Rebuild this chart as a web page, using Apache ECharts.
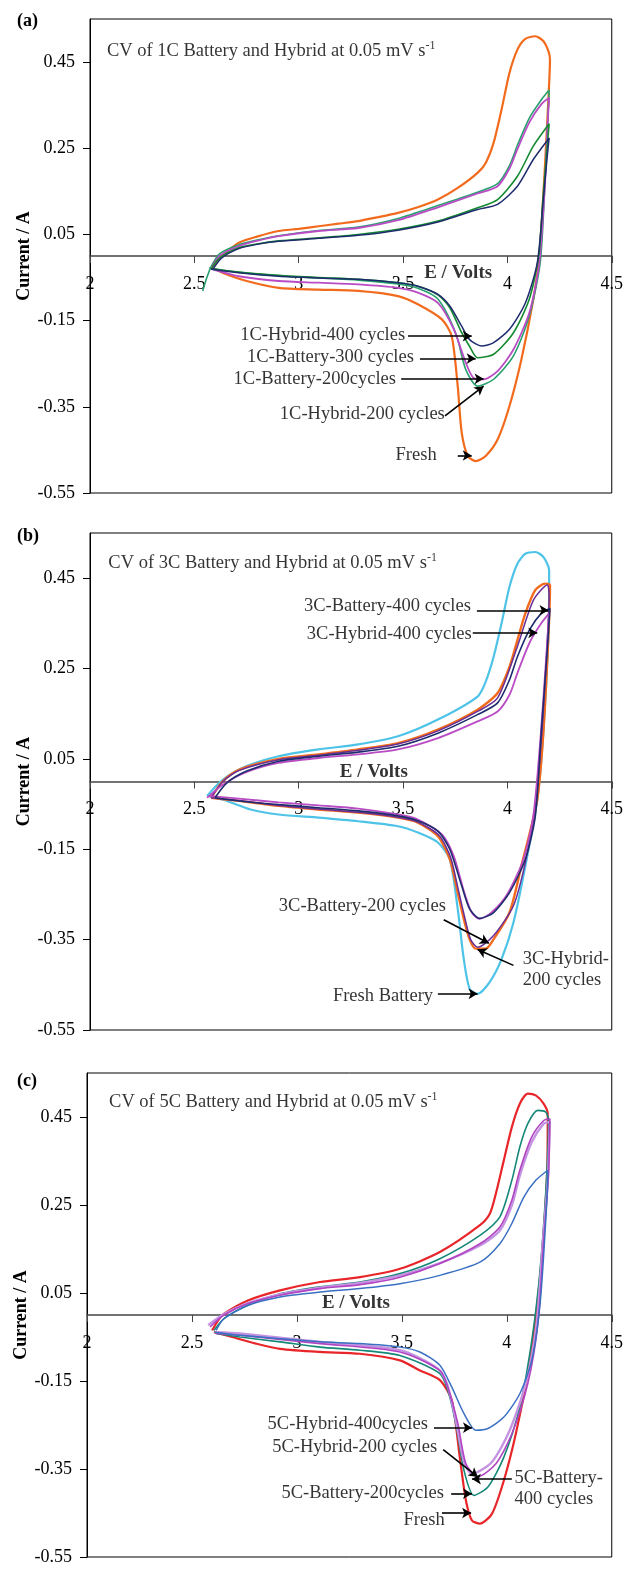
<!DOCTYPE html>
<html>
<head>
<meta charset="utf-8">
<script src="https://cdn.jsdelivr.net/npm/echarts@6/dist/echarts.min.js"></script>
<style>
  html, body { margin: 0; padding: 0; background: #fff; }
  #main { width: 626px; height: 1573px; }
</style>
</head>
<body>
<div id="main"></div>
<script>
// tick values
var xTicks = [2, 2.5, 3, 3.5, 4, 4.5];
var yTicks = [-0.55, -0.35, -0.15, 0.05, 0.25, 0.45];

// ---- panel (a) : 1C, [E (V), I (A)] loops ----
var a_fresh = [[2.58,-0.03],[2.62,-0.005],[2.66,0.012],[2.713,0.031],[2.8,0.045],[2.904,0.058],[3.0,0.063],[3.095,0.069],[3.19,0.075],[3.285,0.081],[3.38,0.09],[3.476,0.1],[3.57,0.113],[3.667,0.131],[3.762,0.158],[3.857,0.193],[3.896,0.216],[3.934,0.263],[3.972,0.34],[4.01,0.425],[4.048,0.479],[4.086,0.504],[4.134,0.51],[4.172,0.499],[4.197,0.475],[4.204,0.456],[4.2,0.4],[4.18,0.209],[4.153,0.0],[4.124,-0.101],[4.067,-0.24],[4.01,-0.348],[3.953,-0.426],[3.896,-0.464],[3.848,-0.476],[3.81,-0.464],[3.781,-0.41],[3.762,-0.302],[3.733,-0.186],[3.686,-0.147],[3.571,-0.112],[3.476,-0.093],[3.285,-0.081],[3.095,-0.078],[2.904,-0.074],[2.75,-0.058],[2.656,-0.043],[2.6,-0.03]];
var a_h400 = [[2.59,-0.03],[2.63,-0.005],[2.713,0.017],[2.8,0.027],[2.904,0.034],[3.095,0.041],[3.285,0.048],[3.476,0.06],[3.667,0.079],[3.857,0.108],[3.953,0.12],[4.048,0.162],[4.124,0.224],[4.2,0.274],[4.191,0.232],[4.172,0.131],[4.143,-0.016],[4.086,-0.109],[4.01,-0.17],[3.934,-0.201],[3.876,-0.209],[3.819,-0.194],[3.781,-0.163],[3.724,-0.116],[3.667,-0.089],[3.571,-0.07],[3.476,-0.062],[3.285,-0.054],[3.095,-0.051],[2.904,-0.047],[2.713,-0.039],[2.58,-0.03]];
var a_b300 = [[2.58,-0.03],[2.62,-0.005],[2.713,0.019],[2.8,0.028],[2.904,0.035],[3.095,0.042],[3.285,0.05],[3.476,0.062],[3.667,0.081],[3.857,0.112],[3.953,0.131],[4.048,0.185],[4.124,0.255],[4.2,0.307],[4.19,0.25],[4.17,0.13],[4.15,0.0],[4.105,-0.1],[4.029,-0.178],[3.934,-0.228],[3.857,-0.236],[3.819,-0.21],[3.781,-0.178],[3.724,-0.12],[3.667,-0.09],[3.571,-0.07],[3.476,-0.062],[3.285,-0.054],[3.095,-0.05],[2.904,-0.045],[2.713,-0.037],[2.58,-0.03]];
var a_b200 = [[2.58,-0.03],[2.62,0.0],[2.713,0.023],[2.8,0.035],[2.904,0.046],[3.095,0.058],[3.285,0.065],[3.476,0.083],[3.667,0.113],[3.857,0.145],[3.953,0.162],[4.01,0.203],[4.048,0.248],[4.105,0.31],[4.162,0.352],[4.2,0.367],[4.192,0.3],[4.185,0.209],[4.153,-0.016],[4.105,-0.132],[4.029,-0.217],[3.953,-0.267],[3.886,-0.286],[3.838,-0.283],[3.8,-0.247],[3.743,-0.17],[3.667,-0.109],[3.571,-0.085],[3.476,-0.074],[3.285,-0.066],[3.095,-0.062],[2.904,-0.058],[2.713,-0.047],[2.58,-0.03]];
var a_h200 = [[2.54,-0.081],[2.56,-0.05],[2.58,-0.025],[2.62,0.005],[2.713,0.026],[2.8,0.037],[2.904,0.047],[3.095,0.059],[3.285,0.067],[3.476,0.087],[3.667,0.117],[3.857,0.148],[3.953,0.168],[4.01,0.21],[4.048,0.257],[4.105,0.32],[4.162,0.362],[4.2,0.385],[4.192,0.3],[4.178,0.15],[4.157,-0.016],[4.105,-0.139],[4.029,-0.232],[3.934,-0.286],[3.857,-0.302],[3.8,-0.263],[3.753,-0.18],[3.667,-0.1],[3.571,-0.075],[3.476,-0.065],[3.285,-0.056],[3.095,-0.051],[2.904,-0.046],[2.713,-0.038],[2.57,-0.028]];

// ---- panel (b) : 3C ----
var b_fresh = [[2.561,-0.032],[2.637,0.004],[2.751,0.034],[2.904,0.056],[3.095,0.071],[3.285,0.082],[3.476,0.1],[3.667,0.137],[3.857,0.188],[3.896,0.221],[3.934,0.276],[3.972,0.35],[4.01,0.431],[4.048,0.482],[4.086,0.504],[4.134,0.508],[4.172,0.497],[4.2,0.468],[4.197,0.328],[4.172,0.107],[4.143,-0.04],[4.086,-0.187],[4.029,-0.312],[3.972,-0.393],[3.915,-0.444],[3.857,-0.47],[3.819,-0.459],[3.791,-0.393],[3.762,-0.282],[3.724,-0.172],[3.667,-0.135],[3.571,-0.113],[3.476,-0.099],[3.285,-0.088],[3.095,-0.08],[2.904,-0.073],[2.77,-0.062],[2.656,-0.043],[2.57,-0.032]];
var b_b200 = [[2.58,-0.036],[2.637,0.001],[2.713,0.026],[2.904,0.05],[3.095,0.06],[3.285,0.071],[3.476,0.085],[3.667,0.115],[3.857,0.159],[3.953,0.196],[4.01,0.254],[4.048,0.313],[4.086,0.372],[4.134,0.424],[4.181,0.438],[4.204,0.435],[4.197,0.328],[4.172,0.107],[4.143,-0.04],[4.067,-0.187],[4.01,-0.29],[3.934,-0.349],[3.896,-0.37],[3.848,-0.37],[3.819,-0.349],[3.791,-0.304],[3.762,-0.246],[3.724,-0.172],[3.667,-0.121],[3.571,-0.091],[3.476,-0.08],[3.285,-0.069],[3.095,-0.062],[2.904,-0.054],[2.713,-0.043],[2.58,-0.036]];
var b_h200 = [[2.58,-0.036],[2.637,0.0],[2.713,0.024],[2.904,0.048],[3.095,0.058],[3.285,0.069],[3.476,0.083],[3.667,0.112],[3.857,0.155],[3.953,0.185],[4.048,0.299],[4.124,0.401],[4.191,0.435],[4.2,0.41],[4.19,0.3],[4.165,0.107],[4.134,-0.054],[4.086,-0.179],[4.029,-0.275],[3.934,-0.341],[3.857,-0.367],[3.824,-0.35],[3.795,-0.3],[3.765,-0.24],[3.728,-0.168],[3.672,-0.119],[3.571,-0.09],[3.476,-0.079],[3.285,-0.068],[3.095,-0.061],[2.904,-0.053],[2.713,-0.042],[2.58,-0.036]];
var b_b400 = [[2.599,-0.036],[2.656,-0.003],[2.751,0.023],[2.904,0.045],[3.095,0.056],[3.285,0.065],[3.476,0.078],[3.667,0.107],[3.857,0.148],[3.953,0.174],[4.01,0.225],[4.048,0.276],[4.105,0.335],[4.162,0.372],[4.204,0.383],[4.191,0.291],[4.162,0.107],[4.134,-0.076],[4.086,-0.172],[4.01,-0.246],[3.934,-0.29],[3.867,-0.303],[3.819,-0.282],[3.781,-0.231],[3.724,-0.15],[3.667,-0.11],[3.571,-0.087],[3.476,-0.076],[3.285,-0.065],[3.095,-0.058],[2.904,-0.051],[2.713,-0.043],[2.599,-0.036]];
var b_h400 = [[2.561,-0.036],[2.637,-0.007],[2.751,0.021],[2.904,0.041],[3.095,0.052],[3.285,0.06],[3.476,0.071],[3.667,0.096],[3.857,0.133],[3.953,0.155],[4.01,0.192],[4.048,0.24],[4.105,0.306],[4.162,0.35],[4.2,0.372],[4.185,0.269],[4.158,0.093],[4.124,-0.076],[4.077,-0.172],[4.0,-0.249],[3.924,-0.29],[3.867,-0.304],[3.829,-0.29],[3.791,-0.242],[3.743,-0.165],[3.686,-0.117],[3.571,-0.084],[3.476,-0.073],[3.285,-0.06],[3.095,-0.053],[2.904,-0.046],[2.713,-0.038],[2.57,-0.032]];

// ---- panel (c) : 5C ----
var c_fresh = [[2.596,-0.035],[2.625,-0.012],[2.653,0.003],[2.767,0.033],[2.92,0.056],[3.11,0.075],[3.3,0.086],[3.491,0.105],[3.681,0.143],[3.872,0.204],[3.919,0.23],[3.948,0.276],[3.986,0.352],[4.024,0.427],[4.062,0.48],[4.1,0.503],[4.138,0.499],[4.176,0.48],[4.195,0.458],[4.192,0.321],[4.167,0.132],[4.138,-0.005],[4.1,-0.133],[4.043,-0.27],[3.986,-0.376],[3.929,-0.452],[3.872,-0.474],[3.834,-0.467],[3.805,-0.421],[3.776,-0.323],[3.738,-0.194],[3.681,-0.148],[3.586,-0.126],[3.491,-0.103],[3.3,-0.088],[3.11,-0.084],[2.92,-0.077],[2.805,-0.065],[2.691,-0.05],[2.605,-0.039]];
var c_b200 = [[2.605,-0.035],[2.653,-0.008],[2.767,0.022],[2.92,0.048],[3.11,0.064],[3.3,0.075],[3.491,0.094],[3.681,0.128],[3.872,0.181],[3.967,0.223],[4.024,0.306],[4.062,0.382],[4.1,0.435],[4.148,0.465],[4.186,0.461],[4.199,0.442],[4.186,0.283],[4.157,0.094],[4.119,-0.058],[4.062,-0.209],[3.986,-0.323],[3.91,-0.391],[3.843,-0.41],[3.796,-0.353],[3.757,-0.247],[3.719,-0.171],[3.681,-0.133],[3.491,-0.092],[3.3,-0.08],[3.11,-0.073],[2.92,-0.061],[2.729,-0.05],[2.615,-0.042]];
var c_b400 = [[2.586,-0.027],[2.653,0.0],[2.767,0.026],[2.92,0.045],[3.11,0.06],[3.3,0.069],[3.491,0.086],[3.681,0.117],[3.872,0.162],[3.967,0.2],[4.024,0.261],[4.062,0.329],[4.119,0.405],[4.176,0.442],[4.205,0.446],[4.199,0.321],[4.176,0.17],[4.148,-0.02],[4.1,-0.156],[4.024,-0.27],[3.948,-0.338],[3.862,-0.368],[3.805,-0.338],[3.767,-0.247],[3.719,-0.164],[3.681,-0.126],[3.491,-0.084],[3.11,-0.065],[2.729,-0.046],[2.615,-0.042]];
var c_h200 = [[2.577,-0.023],[2.653,0.002],[2.767,0.027],[2.92,0.047],[3.11,0.062],[3.3,0.073],[3.491,0.09],[3.681,0.118],[3.872,0.158],[3.967,0.192],[4.024,0.249],[4.062,0.317],[4.119,0.393],[4.176,0.435],[4.205,0.439],[4.195,0.306],[4.17,0.155],[4.142,-0.02],[4.09,-0.156],[4.014,-0.262],[3.929,-0.334],[3.834,-0.361],[3.796,-0.334],[3.757,-0.239],[3.715,-0.156],[3.672,-0.122],[3.491,-0.08],[3.11,-0.061],[2.729,-0.042],[2.615,-0.039]];
var c_h400 = [[2.615,-0.035],[2.653,-0.008],[2.767,0.022],[2.92,0.041],[3.11,0.052],[3.3,0.06],[3.491,0.071],[3.681,0.09],[3.872,0.12],[3.967,0.162],[4.024,0.208],[4.081,0.268],[4.138,0.306],[4.195,0.329],[4.195,0.321],[4.18,0.17],[4.157,0.018],[4.119,-0.103],[4.062,-0.179],[3.986,-0.232],[3.91,-0.258],[3.853,-0.262],[3.796,-0.224],[3.738,-0.164],[3.681,-0.114],[3.586,-0.084],[3.491,-0.073],[3.3,-0.065],[3.11,-0.061],[2.92,-0.054],[2.729,-0.046],[2.605,-0.039]];

// annotations: [E, I, text, side]
var a_notes = [[3.51,-0.184,'1C-Hybrid-400 cycles','left'],[3.552,-0.234,'1C-Battery-300 cycles','left'],[3.466,-0.285,'1C-Battery-200cycles','left'],[3.7,-0.366,'1C-Hybrid-200 cycles','left'],[3.661,-0.461,'Fresh','left']];
var a_arrows = [[3.524,-0.186,3.829,-0.186],[3.581,-0.238,3.848,-0.238],[3.491,-0.285,3.886,-0.285],[3.701,-0.371,3.886,-0.302],[3.762,-0.463,3.829,-0.463]];
var b_notes = [[3.825,0.388,'3C-Battery-400 cycles','left'],[3.829,0.326,'3C-Hybrid-400 cycles','left'],[3.705,-0.275,'3C-Battery-200 cycles','left'],[4.073,-0.416,'3C-Hybrid-\n200 cycles','right'],[3.644,-0.475,'Fresh Battery','left']];
var b_arrows = [[3.854,0.379,4.197,0.379],[3.834,0.329,4.143,0.329],[3.695,-0.306,3.911,-0.358],[4.029,-0.407,3.857,-0.372],[3.667,-0.47,3.857,-0.47]];
var c_notes = [[3.624,-0.247,'5C-Hybrid-400cycles','left'],[3.668,-0.3,'5C-Hybrid-200 cycles','left'],[4.037,-0.395,'5C-Battery-\n400 cycles','right'],[3.7,-0.404,'5C-Battery-200cycles','left'],[3.704,-0.467,'Fresh','left']];
var c_arrows = [[3.653,-0.256,3.834,-0.256],[3.697,-0.306,3.862,-0.368],[4.024,-0.373,3.834,-0.373],[3.735,-0.406,3.834,-0.406],[3.691,-0.45,3.83,-0.45]];

var titles = [[2.081,0.475,'1C'],[2.088,0.484,'3C'],[2.105,0.484,'5C']];
var xNamePos = [[3.764,-0.039],[3.36,0.02],[3.281,0.026]];

var FONT = '"Liberation Serif", "Times New Roman", serif';
var myChart = echarts.init(document.getElementById('main'));

var grids = [
    {left: 90, width: 524, top: 19, height: 474},
    {left: 90, width: 524, top: 533, height: 497},
    {left: 87, width: 525, top: 1073, height: 484}
];
grids.forEach(function (g) { g.show = true; g.borderColor = '#000'; g.borderWidth = 1; });

var xAxes = [], yAxes = [];
for (var i = 0; i < 3; i++) {
    // x axis sits on I = 0, which is the middle of the symmetric y range
    xAxes.push({
        type: 'value', gridIndex: i, min: 2, max: 4.5,
        position: 'bottom', offset: -grids[i].height / 2,
        axisLine: {onZero: false, lineStyle: {color: '#444', width: 1.5}},
        axisTick: {show: true, length: 7, customValues: xTicks, lineStyle: {color: '#444'}},
        axisLabel: {customValues: xTicks, margin: 19, color: '#000', fontFamily: FONT, fontSize: 18},
        splitLine: {show: false}
    });
    yAxes.push({
        type: 'value', gridIndex: i, min: -0.55, max: 0.55,
        name: 'Current / A', nameLocation: 'middle', nameGap: 57, nameMoveOverlap: false,
        nameTextStyle: {color: '#000', fontFamily: FONT, fontSize: 18, fontWeight: 'bold'},
        axisLine: {show: true, lineStyle: {color: '#000'}},
        axisTick: {show: true, length: 7, customValues: yTicks, lineStyle: {color: '#000'}},
        axisLabel: {customValues: yTicks, margin: 15, color: '#000', fontFamily: FONT, fontSize: 18},
        splitLine: {show: false}
    });
}

function curve(name, data, color, width, idx) {
    return {
        name: name, type: 'line', xAxisIndex: idx, yAxisIndex: idx,
        data: data, showSymbol: false, smooth: 0.25,
        lineStyle: {color: color, width: width}, itemStyle: {color: color},
        silent: true
    };
}

function notes(list, arrows, title, xName, idx) {
    var data = list.map(function (n) {
        return {
            value: [n[0], n[1]], name: n[2],
            label: {position: n[3], align: n[3] === 'left' ? 'right' : 'left'}
        };
    });
    data.push({
        value: [title[0], title[1]], name: title[2],
        label: {position: 'right', align: 'left',
            formatter: '{t|CV of ' + title[2] + ' Battery and Hybrid at 0.05 mV s}{s|-1}'}
    });
    data.push({
        value: xName, name: 'E / Volts',
        label: {position: 'inside', align: 'center', fontWeight: 'bold', fontSize: 19}
    });
    return {
        type: 'scatter', xAxisIndex: idx, yAxisIndex: idx, symbolSize: 0, silent: true, z: 5,
        data: data,
        label: {
            show: true, formatter: '{b}', distance: 0, color: '#000',
            fontFamily: FONT, fontSize: 18.5, lineHeight: 21,
            rich: {
                t: {fontFamily: FONT, fontSize: 18.5, color: '#000', lineHeight: 22},
                s: {fontFamily: FONT, fontSize: 12, color: '#000', verticalAlign: 'top', lineHeight: 22}
            }
        },
        markLine: {
            silent: true, symbol: ['none', 'arrow'], symbolSize: [8, 9],
            label: {show: false},
            lineStyle: {color: '#000', width: 1.6, type: 'solid'},
            data: arrows.map(function (a) {
                return [{coord: [a[0], a[1]]}, {coord: [a[2], a[3]]}];
            })
        }
    };
}

var series = [
    curve('Fresh', a_fresh, '#F26B1D', 2.2, 0),
    curve('1C-Hybrid-200 cycles', a_h200, '#27A06E', 1.6, 0),
    curve('1C-Battery-200cycles', a_b200, '#B94CC4', 1.8, 0),
    curve('1C-Battery-300 cycles', a_b300, '#148A30', 1.6, 0),
    curve('1C-Hybrid-400 cycles', a_h400, '#1E2C6E', 1.5, 0),
    notes(a_notes, a_arrows, titles[0], xNamePos[0], 0),

    curve('Fresh Battery', b_fresh, '#4EC3E8', 2.2, 1),
    curve('3C-Battery-200 cycles', b_b200, '#F26B1D', 2.4, 1),
    curve('3C-Hybrid-200 cycles', b_h200, '#6A2E98', 1.5, 1),
    curve('3C-Hybrid-400 cycles', b_h400, '#B94CC4', 1.8, 1),
    curve('3C-Battery-400 cycles', b_b400, '#1E2C6E', 1.6, 1),
    notes(b_notes, b_arrows, titles[1], xNamePos[1], 1),

    curve('Fresh', c_fresh, '#E8262A', 2.2, 2),
    curve('5C-Battery-200cycles', c_b200, '#168878', 1.6, 2),
    curve('5C-Hybrid-200 cycles', c_h200, '#C493E2', 2.4, 2),
    curve('5C-Battery-400 cycles', c_b400, '#B044C2', 1.6, 2),
    curve('5C-Hybrid-400cycles', c_h400, '#3A70C2', 1.5, 2),
    notes(c_notes, c_arrows, titles[2], xNamePos[2], 2)
];

var option = {
    animation: false,
    backgroundColor: '#fff',
    grid: grids,
    xAxis: xAxes,
    yAxis: yAxes,
    graphic: [
        {type: 'text', left: 17, top: 12, style: {text: '(a)', font: 'bold 18px ' + FONT, fill: '#000'}},
        {type: 'text', left: 17, top: 527, style: {text: '(b)', font: 'bold 18px ' + FONT, fill: '#000'}},
        {type: 'text', left: 17, top: 1072, style: {text: '(c)', font: 'bold 18px ' + FONT, fill: '#000'}}
    ],
    series: series
};
myChart.setOption(option);
</script>
</body>
</html>
